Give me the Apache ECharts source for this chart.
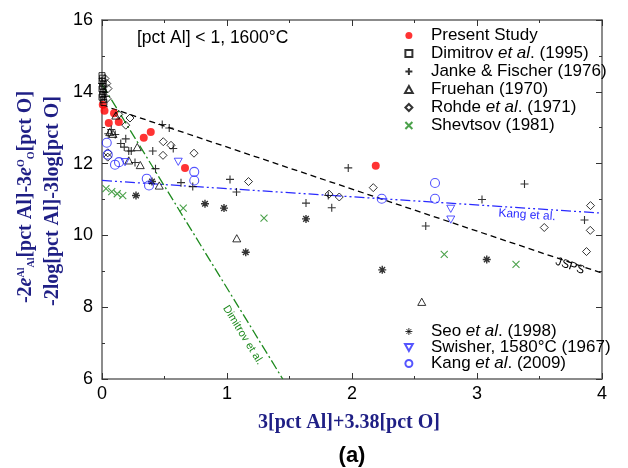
<!DOCTYPE html>
<html><head><meta charset="utf-8">
<script src="https://cdn.jsdelivr.net/npm/echarts@6/dist/echarts.min.js"></script>
<style>html,body{margin:0;padding:0;background:#fff}#c{width:628px;height:468px}</style>
</head><body><div id="c"></div><script>
// ---- axes ----
const xTicks = [0, 1, 2, 3, 4];
const yTicks = [6, 8, 10, 12, 14, 16];

// ---- data series [x, y] ----
const presentStudy = [[0.006,13.64],[0.02,13.47],[0.096,13.40],[0.054,13.13],[0.134,13.16],[0.334,12.72],[0.39,12.88],[0.664,11.88],[2.19,11.94]];
const dimitrov = [[0.0,14.45],[0.005,14.38],[0.0,14.30],[0.01,14.22],[0.005,14.15],[0.0,14.08],[0.01,14.0],[0.005,13.92],[0.0,13.85],[0.01,13.78],[0.015,13.70]];
const janke = [[0.0,14.23],[0.01,14.0],[0.02,13.87],[0.05,12.83],[0.074,12.95],[0.106,12.81],[0.15,12.56],[0.19,12.69],[0.178,12.46],[0.214,12.35],[0.234,12.35],[0.264,12.03],[0.406,12.35],[0.428,11.86],[0.482,13.09],[0.538,12.99],[0.57,12.42],[0.632,11.47],[0.726,11.36],[1.024,11.56],[1.076,11.21],[1.632,10.90],[1.81,11.11],[1.838,10.77],[1.97,11.88],[2.59,10.26],[3.04,11.0],[3.38,11.43],[3.86,10.43]];
const fruehan = [[0.062,12.88],[0.088,12.83],[0.11,13.34],[0.214,12.09],[0.282,12.46],[0.306,11.96],[0.458,11.39],[1.078,9.92],[2.558,8.15]];
const rohde = [[0.024,14.37],[0.038,14.23],[0.048,14.09],[0.04,13.81],[0.134,13.37],[0.19,13.07],[0.224,13.27],[0.046,12.30],[0.046,12.18],[0.49,12.61],[0.552,12.51],[0.488,12.23],[0.736,12.29],[1.172,11.50],[1.816,11.15],[1.898,11.07],[2.17,11.33],[3.538,10.22],[3.908,10.83],[3.906,10.14],[3.876,9.55]];
const shevtsov = [[0.032,11.30],[0.078,11.22],[0.122,11.16],[0.166,11.11],[0.65,10.76],[1.296,10.48],[2.738,9.47],[3.312,9.19]];
const seo = [[0.272,11.11],[0.40,11.50],[0.824,10.88],[0.976,10.76],[1.15,9.53],[1.632,10.46],[2.242,9.04],[3.078,9.33]];
const swisher = [[0.184,12.04],[0.61,12.05],[2.79,10.74],[2.79,10.44]];
const kang = [[0.038,12.58],[0.046,12.25],[0.104,11.97],[0.136,12.04],[0.358,11.58],[0.376,11.39],[0.738,11.77],[0.738,11.53],[2.238,11.02],[2.664,11.46],[2.664,11.02]];

// ---- fitted lines ----
const jspsLine = [[0,13.63],[4,8.95]];
const kangLine = [[0,11.53],[4,10.62]];
const dimitrovLine = [[0,14.21],[1.446,6]];

const topNames = ['Present Study','Dimitrov et al. (1995)','Janke & Fischer (1976)','Fruehan (1970)','Rohde et al. (1971)','Shevtsov (1981)'];
const bottomNames = ['Seo et al. (1998)','Swisher, 1580°C (1967)','Kang et al. (2009)'];

const SANS = '"Liberation Sans", Arial, sans-serif';
const SERIF = '"Liberation Serif", "Times New Roman", serif';
const NAVY = '#1f1f85';

const chart = echarts.init(document.getElementById('c'), null, {renderer:'canvas'});

function axisX(pos, labels){
  return {type:'value', min:xTicks[0], max:xTicks[xTicks.length-1], interval:1, position:pos,
    axisLine:{show:true, onZero:false, lineStyle:{color:'#666', width:1.5}},
    axisTick:{show:true, inside:true, length:6, lineStyle:{color:'#333'}},
    minorTick:{show:true, splitNumber:2, length:3, lineStyle:{color:'#333'}},
    axisLabel:{show:labels, fontSize:18, color:'#000', margin:6, fontFamily:SANS},
    splitLine:{show:false}, minorSplitLine:{show:false}};
}
function axisY(pos, labels){
  return {type:'value', min:yTicks[0], max:yTicks[yTicks.length-1], interval:2, position:pos,
    axisLine:{show:true, onZero:false, lineStyle:{color:'#666', width:1.5}},
    axisTick:{show:true, inside:true, length:6, lineStyle:{color:'#333'}},
    minorTick:{show:true, splitNumber:2, length:3, lineStyle:{color:'#333'}},
    axisLabel:{show:labels, fontSize:18, color:'#000', margin:9, fontFamily:SANS},
    splitLine:{show:false}, minorSplitLine:{show:false}};
}

const hollow = (c, w) => ({color:'transparent', borderColor:c, borderWidth:w||1});
const PLUS = 'path://M5,0L5,10M0,5L10,5';
const CROSS = 'path://M0,0L10,10M10,0L0,10';
const STAR = 'path://M5,0L5,10M0,5L10,5M1.5,1.5L8.5,8.5M8.5,1.5L1.5,8.5';
const SQUARE = 'path://M0,0H10V10H0Z';
const TRI_UP = 'path://M5,0L10,9L0,9Z';
const TRI_DOWN = 'path://M0,0L10,0L5,9Z';
const DIAMOND = 'path://M5,0L10,5L5,10L0,5Z';
const RING = 'path://M0,5A5,5,0,1,1,10,5A5,5,0,1,1,0,5Z';

function sc(name, data, symbol, size, style, extra){
  return Object.assign({type:'scatter', name, data, symbol, symbolSize:size, symbolKeepAspect:true, itemStyle:style, z:3}, extra||{});
}
function ln(data, color, type, width){
  return {type:'line', data, symbol:'none', silent:true, z:2,
    lineStyle:{color, type, width:width||1.3}};
}

const legendFmt = n => n.replace('et al.', '{i|et al}.');
const legRich = {i:{fontStyle:'italic', fontSize:17, fontFamily:SANS, color:'#000'}};
const legBase = {orient:'vertical', left:399, itemWidth:34, itemHeight:7, symbolKeepAspect:true,
  selectedMode:false, formatter:legendFmt,
  textStyle:{fontFamily:SANS, fontSize:17, color:'#000', rich:legRich}};

chart.setOption({
  animation:false,
  grid:{left:102, right:26, top:20, bottom:89, containLabel:false},
  xAxis:[axisX('bottom', true), axisX('top', false)],
  yAxis:[axisY('left', true), axisY('right', false)],
  legend:[
    Object.assign({}, legBase, {data:topNames, top:22, itemGap:1}),
    Object.assign({}, legBase, {top:318, itemGap:-1,
      data:[{name:bottomNames[0], itemStyle:{borderWidth:1}}, bottomNames[1], bottomNames[2]]})
  ],
  series:[
    ln(jspsLine, '#000', [6,4], 1.3),
    ln(kangLine, '#2a2aff', [10,3,2,3,2,3], 1.3),
    ln(dimitrovLine, '#1e8a1e', [10,3,2,3], 1.3),
    sc('Present Study', presentStudy, 'circle', 8, {color:'#ff0000'}),
    sc('Dimitrov et al. (1995)', dimitrov, SQUARE, 6, hollow('#000',1)),
    sc('Janke & Fischer (1976)', janke, PLUS, 8, hollow('#000',1.1)),
    sc('Fruehan (1970)', fruehan, TRI_UP, 8, hollow('#000',1)),
    sc('Rohde et al. (1971)', rohde, DIAMOND, 8, hollow('#000',1)),
    sc('Shevtsov (1981)', shevtsov, CROSS, 7, hollow('#1e8a1e',1.1)),
    sc('Seo et al. (1998)', seo, STAR, 8, hollow('#000',1.4)),
    sc('Swisher, 1580°C (1967)', swisher, TRI_DOWN, 8, hollow('#2a2aff',1)),
    sc('Kang et al. (2009)', kang, RING, 9, hollow('#2a2aff',1.1))
  ],
  graphic:[
    {type:'text', x:137, y:38, style:{text:'[pct Al] < 1, 1600°C', fontFamily:SANS, fontSize:17.5, fill:'#000', align:'left', verticalAlign:'middle'}},
    {type:'text', x:527, y:215, rotation:-0.065, style:{text:'Kang et al.', fontFamily:SANS, fontSize:12, fill:'#2a2aff', align:'center', verticalAlign:'middle'}},
    {type:'text', x:570, y:266, rotation:-0.33, style:{text:'JSPS', fontFamily:SANS, fontSize:12, fill:'#000', align:'center', verticalAlign:'middle'}},
    {type:'text', x:243, y:335, rotation:-1.02, style:{text:'Dimitrov et al.', fontFamily:SANS, fontSize:11, fill:'#1e8a1e', align:'center', verticalAlign:'middle'}},
    {type:'text', x:26, y:197, rotation:Math.PI/2, style:{
      text:'-2{i|e}{s|Al}{b|Al}[pct Al]-3{i|e}{s|O}{b|O}[pct O]',
      fontFamily:SERIF, fontWeight:'bold', fontSize:20, fill:NAVY, align:'center', verticalAlign:'middle',
      rich:{
        i:{fontFamily:SERIF, fontWeight:'bold', fontStyle:'italic', fontSize:20, fill:NAVY},
        s:{fontFamily:SERIF, fontWeight:'bold', fontSize:10, fill:NAVY, verticalAlign:'top'},
        b:{fontFamily:SERIF, fontWeight:'bold', fontSize:10, fill:NAVY, verticalAlign:'bottom'}
      }}},
    {type:'text', x:53, y:201, rotation:Math.PI/2, style:{text:'-2log[pct Al]-3log[pct O]', fontFamily:SERIF, fontWeight:'bold', fontSize:20, fill:NAVY, align:'center', verticalAlign:'middle'}},
    {type:'text', x:349, y:423, style:{text:'3[pct Al]+3.38[pct O]', fontFamily:SERIF, fontWeight:'bold', fontSize:20, fill:NAVY, align:'center', verticalAlign:'middle'}},
    {type:'text', x:352, y:456, style:{text:'(a)', fontFamily:SANS, fontWeight:'bold', fontSize:22, fill:'#000', align:'center', verticalAlign:'middle'}}
  ]
});
</script></body></html>
